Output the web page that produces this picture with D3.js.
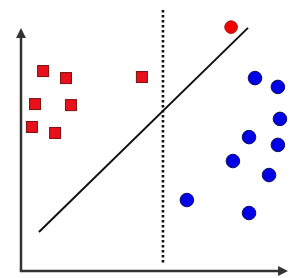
<!DOCTYPE html>
<html>
<head>
<meta charset="utf-8">
<script src="https://cdn.jsdelivr.net/npm/d3@7"></script>
<style>
  body { margin: 0; background: #fff; }
  svg { display: block; }
</style>
</head>
<body>
<div id="svgDiv"></div>
<script>
// data (units 0..100 on both axes)
var squareX = [8.5, 17.3, 46.5, 5.4, 19.2, 4.2, 13.1];
var squareY = [76.9, 74.2, 74.6, 64.2, 63.8, 55.4, 53.1];
var redDotX = [80.8];
var redDotY = [93.8];
var blueX = [90, 98.8, 99.6, 87.7, 98.8, 81.5, 95.4, 63.8, 87.7];
var blueY = [74.2, 70.8, 58.5, 51.5, 48.5, 42.3, 36.9, 27.3, 22.3];
var dividerX = 54.6;
var dividerY = [2.7, 100.4];
var boundaryX = [6.9, 87.3];
var boundaryY = [15, 93.5];
var axisEnd = { x: 100.8, y: 91.5 };

var svgWidth = 300, svgHeight = 278;

var svg = d3.select("#svgDiv").append("svg")
    .attr("width", svgWidth)
    .attr("height", svgHeight);

var xScale = d3.scaleLinear().domain([0, 100]).range([21, 281]);
var yScale = d3.scaleLinear().domain([0, 100]).range([271, 11]);

// arrow marker for axes
svg.append("defs").append("marker")
    .attr("id", "arrow")
    .attr("viewBox", "0 0 10 10")
    .attr("refX", 5).attr("refY", 5)
    .attr("markerWidth", 4).attr("markerHeight", 4)
    .attr("orient", "auto")
  .append("path")
    .attr("d", "M0,0 L10,5 L0,10 z")
    .attr("fill", "#333");

// axes
svg.append("line")
    .attr("x1", xScale(0)).attr("y1", yScale(0))
    .attr("x2", xScale(0)).attr("y2", yScale(axisEnd.y))
    .attr("stroke", "#333").attr("stroke-width", 2.5)
    .attr("marker-end", "url(#arrow)");
svg.append("line")
    .attr("x1", xScale(0) - 1.2).attr("y1", yScale(0))
    .attr("x2", xScale(axisEnd.x)).attr("y2", yScale(0))
    .attr("stroke", "#333").attr("stroke-width", 2.5)
    .attr("marker-end", "url(#arrow)");

// dotted divider
svg.append("line")
    .attr("x1", xScale(dividerX)).attr("y1", yScale(dividerY[1]))
    .attr("x2", xScale(dividerX)).attr("y2", yScale(dividerY[0]))
    .attr("stroke", "#111").attr("stroke-width", 2.6)
    .attr("stroke-dasharray", "2.5,2.5");

// diagonal boundary
svg.append("line")
    .attr("x1", xScale(boundaryX[0])).attr("y1", yScale(boundaryY[0]))
    .attr("x2", xScale(boundaryX[1])).attr("y2", yScale(boundaryY[1]))
    .attr("stroke", "#111").attr("stroke-width", 2);

// red squares
var squares = squareX.map((x, i) => ({ x: x, y: squareY[i] }));
svg.selectAll("rect.sq")
    .data(squares).enter().append("rect")
    .attr("class", "sq")
    .attr("x", d => xScale(d.x) - 5.5)
    .attr("y", d => yScale(d.y) - 5.5)
    .attr("width", 11).attr("height", 11)
    .attr("fill", "#e8101a")
    .attr("stroke", "#7a1010").attr("stroke-width", 1);

// red dot
svg.selectAll("circle.red")
    .data(redDotX.map((x, i) => ({ x: x, y: redDotY[i] }))).enter().append("circle")
    .attr("class", "red")
    .attr("cx", d => xScale(d.x)).attr("cy", d => yScale(d.y))
    .attr("r", 6.3)
    .attr("fill", "#f00000")
    .attr("stroke", "#a01010").attr("stroke-width", 1);

// blue dots
var blues = blueX.map((x, i) => ({ x: x, y: blueY[i] }));
svg.selectAll("circle.blue")
    .data(blues).enter().append("circle")
    .attr("class", "blue")
    .attr("cx", d => xScale(d.x)).attr("cy", d => yScale(d.y))
    .attr("r", 6.8)
    .attr("fill", "#0000e6")
    .attr("stroke", "#101060").attr("stroke-width", 1);
</script>
</body>
</html>
